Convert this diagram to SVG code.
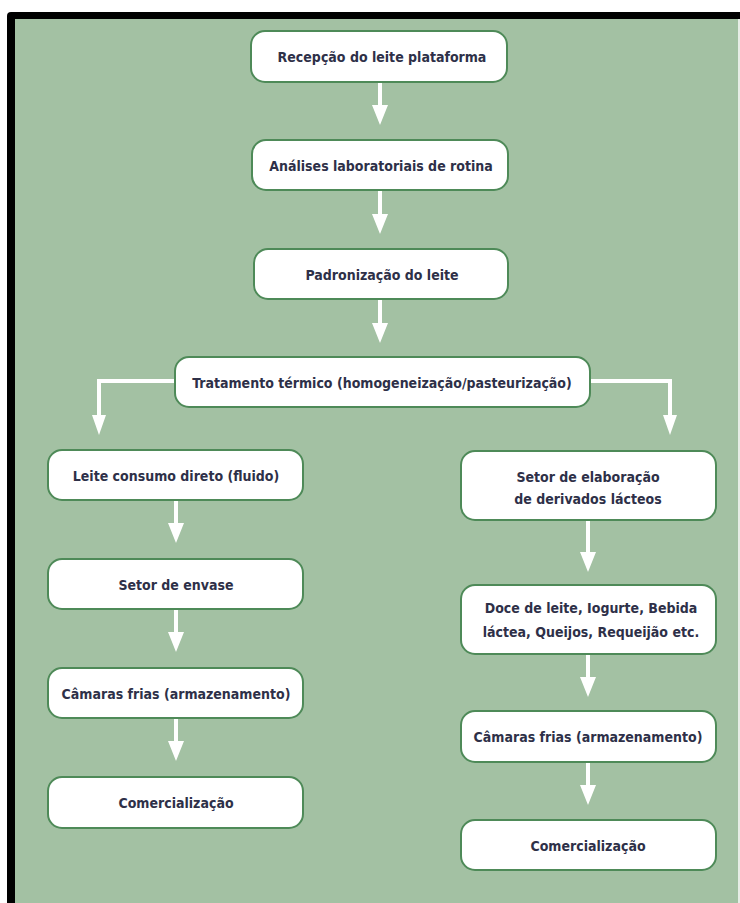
<svg xmlns="http://www.w3.org/2000/svg" width="740" height="903" viewBox="0 0 740 903">
<defs>
<style>
.box{fill:#ffffff;stroke:#4e8a58;stroke-width:2}
.t{font-family:"DejaVu Sans Condensed","Liberation Sans Narrow","Liberation Sans",sans-serif;font-weight:bold;font-size:14px;fill:#2e3048;text-anchor:middle}
.c{fill:none;stroke:#ffffff;stroke-width:4}
</style>
</defs>
<rect x="0" y="0" width="740" height="903" fill="#ffffff"/>
<rect x="7" y="12" width="740" height="900" rx="4" fill="#000000"/>
<rect x="15" y="19" width="725" height="884" fill="#e6ede6"/>
<rect x="15" y="19" width="723" height="884" fill="#a3c1a3"/>
<g id="connectors">
<path class="c" d="M380,82 V108"/><path d="M372,105 L388,105 L380,125 Z" fill="#fff"/>
<path class="c" d="M380,190 V217"/><path d="M372,214 L388,214 L380,234 Z" fill="#fff"/>
<path class="c" d="M380,299 V326"/><path d="M372,323 L388,323 L380,343 Z" fill="#fff"/>
<path class="c" d="M175,381 H99 V418"/><path d="M92,415 L106,415 L99,435 Z" fill="#fff"/>
<path class="c" d="M590,381 H670 V418"/><path d="M663,415 L677,415 L670,435 Z" fill="#fff"/>
<path class="c" d="M176,500 V526"/><path d="M168,523 L184,523 L176,543 Z" fill="#fff"/>
<path class="c" d="M176,609 V635"/><path d="M168,632 L184,632 L176,652 Z" fill="#fff"/>
<path class="c" d="M176,718 V744"/><path d="M168,741 L184,741 L176,761 Z" fill="#fff"/>
<path class="c" d="M588,520 V555"/><path d="M580,552 L596,552 L588,572 Z" fill="#fff"/>
<path class="c" d="M588,654 V680"/><path d="M580,677 L596,677 L588,697 Z" fill="#fff"/>
<path class="c" d="M588,762 V788"/><path d="M580,785 L596,785 L588,805 Z" fill="#fff"/>
</g>
<g id="n1"><rect class="box" x="251" y="31" width="256" height="51" rx="14"/><text class="t" x="382" y="62">Recepção do leite plataforma</text></g>
<g id="n2"><rect class="box" x="252" y="140" width="256" height="50" rx="14"/><text class="t" x="381" y="171">Análises laboratoriais de rotina</text></g>
<g id="n3"><rect class="box" x="254" y="249" width="254" height="50" rx="14"/><text class="t" x="382" y="280">Padronização do leite</text></g>
<g id="n4"><rect class="box" x="175" y="357" width="415" height="50" rx="14"/><text class="t" x="382" y="388">Tratamento térmico (homogeneização/pasteurização)</text></g>
<g id="n5"><rect class="box" x="48" y="450" width="255" height="50" rx="14"/><text class="t" x="176" y="481">Leite consumo direto (fluido)</text></g>
<g id="n6"><rect class="box" x="461" y="451" width="255" height="69" rx="14"/><text class="t"><tspan x="588" y="482">Setor de elaboração</tspan><tspan x="588" y="504">de derivados lácteos</tspan></text></g>
<g id="n7"><rect class="box" x="48" y="559" width="255" height="50" rx="14"/><text class="t" x="176" y="590">Setor de envase</text></g>
<g id="n8"><rect class="box" x="461" y="585" width="255" height="69" rx="14"/><text class="t"><tspan x="591" y="613">Doce de leite, Iogurte, Bebida</tspan><tspan x="591" y="637">láctea, Queijos, Requeijão etc.</tspan></text></g>
<g id="n9"><rect class="box" x="48" y="668" width="255" height="50" rx="14"/><text class="t" x="176" y="699">Câmaras frias (armazenamento)</text></g>
<g id="n10"><rect class="box" x="461" y="711" width="255" height="51" rx="14"/><text class="t" x="588" y="742">Câmaras frias (armazenamento)</text></g>
<g id="n11"><rect class="box" x="48" y="777" width="255" height="51" rx="14"/><text class="t" x="176" y="808">Comercialização</text></g>
<g id="n12"><rect class="box" x="461" y="820" width="255" height="50" rx="14"/><text class="t" x="588" y="851">Comercialização</text></g>
</svg>
